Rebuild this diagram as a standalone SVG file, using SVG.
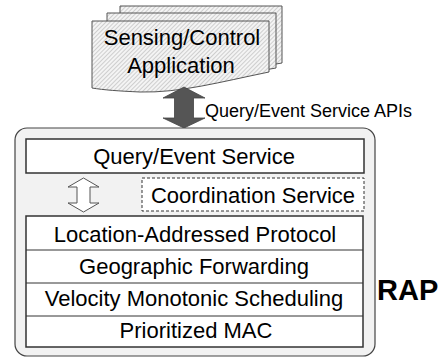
<svg xmlns="http://www.w3.org/2000/svg" width="440" height="358" viewBox="0 0 440 358">
  <defs>
    <pattern id="hatch" patternUnits="userSpaceOnUse" width="3" height="3" patternTransform="rotate(45)">
      <rect width="3" height="3" fill="#f4f4f4"/>
      <line x1="0" y1="0" x2="0" y2="3" stroke="#a8a8a8" stroke-width="1"/>
    </pattern>
    <style>
      .doc { fill: url(#hatch); stroke: #555; stroke-width: 1; }
      .t { font-family: "Liberation Sans", Arial, sans-serif; font-size: 22px; fill: #000; text-anchor: middle; }
      .box { fill: #fff; stroke: #333; stroke-width: 1.5; }
      .sep { stroke: #333; stroke-width: 1; }
    </style>
  </defs>

  <g id="application">
    <path class="doc" d="M120,6 H282 V63 C240,70 200,78 175,76 C150,74 135,72 120,69 Z"/>
    <path class="doc" d="M107,13 H276 V68 C230,76 190,84 160,82 C135,80 120,78 107,76 Z"/>
    <path class="doc" d="M92,21 H269 V72 C220,82 180,93 140,92 C118,91 104,90 92,88 Z"/>
    <text class="t" x="182" y="45">Sensing/Control</text>
    <text class="t" x="181" y="73">Application</text>
  </g>

  <g id="connectors">
    <polygon points="184,87 205,98 193.5,98 193.5,118 205,118 184,128 163,118 174.5,118 174.5,98 163,98" fill="#555" stroke="#444" stroke-width="0.8"/>
    <text x="205" y="117" font-family="Liberation Sans, Arial, sans-serif" font-size="18" fill="#000">Query/Event Service APIs</text>
  </g>

  <g id="rap">
    <rect x="15" y="128" width="360" height="228" rx="12" ry="12" fill="#f2f2f2" stroke="#444" stroke-width="1.2"/>
    <text x="377" y="300" font-family="Liberation Sans, Arial, sans-serif" font-size="29" font-weight="bold" fill="#000">RAP</text>
  </g>

  <g id="query-event-service">
    <rect class="box" x="26" y="139" width="338" height="34"/>
    <text class="t" x="194" y="164">Query/Event Service</text>
  </g>

  <g id="coordination-arrow">
    <polygon points="83.5,178 99,187 90,187 90,203 99,203 83.5,212 68,203 77,203 77,187 68,187" fill="#fff" stroke="#555" stroke-width="1"/>
  </g>

  <g id="coordination-service">
    <rect x="142" y="178" width="222" height="33" fill="#fff" stroke="#333" stroke-width="1" stroke-dasharray="3,2"/>
    <text class="t" x="253" y="203">Coordination Service</text>
  </g>

  <g id="protocol-stack">
    <rect class="box" x="26" y="216" width="337" height="131"/>
    <line class="sep" x1="26" y1="250" x2="363" y2="250"/>
    <line class="sep" x1="26" y1="283" x2="363" y2="283"/>
    <line class="sep" x1="26" y1="316" x2="363" y2="316"/>
  </g>
  <g id="location-addressed-protocol">
    <text class="t" x="195" y="242">Location-Addressed Protocol</text>
  </g>
  <g id="geographic-forwarding">
    <text class="t" x="194" y="274">Geographic Forwarding</text>
  </g>
  <g id="velocity-monotonic-scheduling">
    <text class="t" x="194" y="306">Velocity Monotonic Scheduling</text>
  </g>
  <g id="prioritized-mac">
    <text class="t" x="196" y="338">Prioritized MAC</text>
  </g>
</svg>
